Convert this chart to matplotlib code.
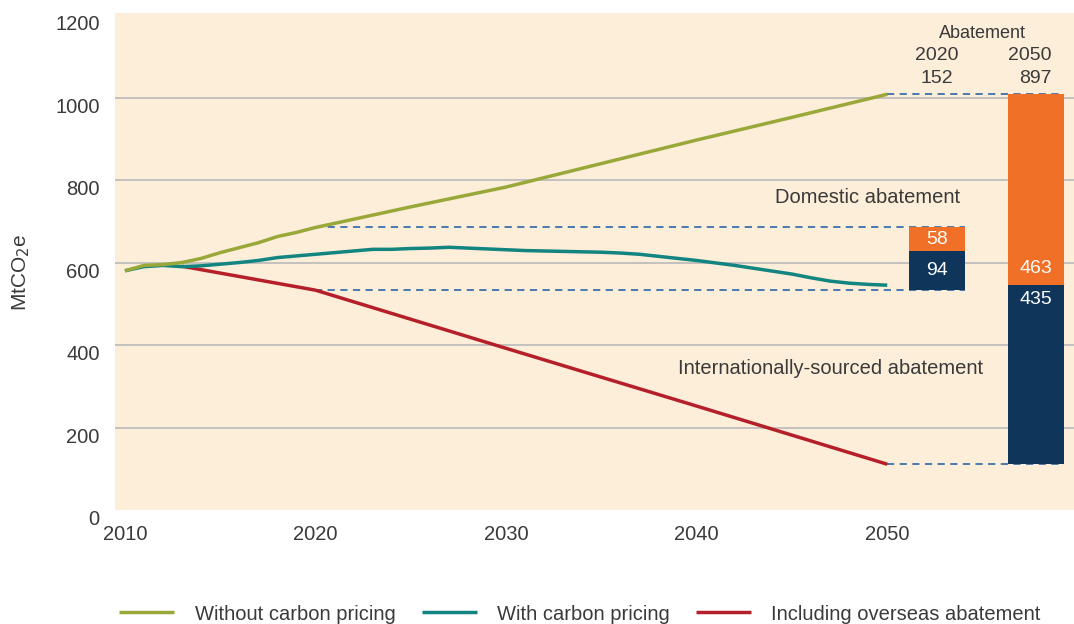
import matplotlib
matplotlib.use('Agg')
import matplotlib.pyplot as plt

plt.rcParams['font.family'] = ['Liberation Sans', 'DejaVu Sans']

# emissions, MtCO2e
years_a = list(range(2010, 2021)) + [2025, 2030, 2035, 2040, 2045, 2050]
without_pricing = [580, 593, 595, 600, 610, 624, 636, 648, 663, 673, 685,
                   735, 783, 840, 897, 952, 1008]

years_b = list(range(2010, 2051))
with_pricing = [580, 590, 593, 590, 592, 596, 600, 605, 612, 616, 620,
                624, 628, 632, 632, 634, 635, 637, 635, 633, 631,
                629, 628, 627, 626, 625, 623, 620, 615, 610, 605,
                599, 593, 586, 579, 572, 563, 555, 550, 547, 545]

years_c = [2013, 2020, 2030, 2040, 2050]
overseas = [591, 533, 392, 252, 111]

# abatement bars: (international part, domestic part)
bar_years = ['2020', '2050']
bar_bottom = [534, 111]
bar_navy = [94, 435]
bar_orange = [58, 463]
bar_totals = [152, 897]

c_green = '#9aa83a'
c_teal = '#138580'
c_red = '#b51f2a'
c_orange = '#f07027'
c_navy = '#0f365a'
c_dash = '#3d70aa'
c_text = '#3a3a3a'

fig = plt.figure(figsize=(10.74, 6.24), dpi=100)
ax = fig.add_axes([115 / 1074, 1 - 510 / 624, 1 - 115 / 1074, (510 - 13) / 624])
ax.set_facecolor('#fdeed9')
for s in ax.spines.values():
    s.set_visible(False)

ax.set_xlim(2009.48, 2059.8)
ax.set_ylim(0, 1205)

yt = [0, 200, 400, 600, 800, 1000, 1200]
for v in yt[1:-1]:
    ax.axhline(v, color='#b9b9b9', lw=1.2, zorder=1)
ax.set_yticks(yt)
ax.set_yticklabels([str(v) for v in yt], va='top')
ax.set_xticks([2010, 2020, 2030, 2040, 2050])
ax.tick_params(length=0, labelsize=14.5, colors=c_text)
ax.tick_params(axis='y', pad=11)
ax.tick_params(axis='x', pad=11)
for t in ax.get_yticklabels():
    t.set_y(t.get_position()[1])

# lines
l3, = ax.plot(years_c, overseas, color=c_red, lw=2.5, zorder=3,
              solid_capstyle='butt', label='Including overseas abatement')
l2, = ax.plot(years_b, with_pricing, color=c_teal, lw=2.5, zorder=4,
              solid_capstyle='butt', label='With carbon pricing')
l1, = ax.plot(years_a, without_pricing, color=c_green, lw=2.5, zorder=5,
              solid_capstyle='butt', label='Without carbon pricing')

# bars
bx = [2052.6, 2057.8]
bw = 2.94
for i in range(2):
    ax.bar(bx[i], bar_navy[i], bw, bottom=bar_bottom[i], color=c_navy, zorder=6)
    ax.bar(bx[i], bar_orange[i], bw, bottom=bar_bottom[i] + bar_navy[i],
           color=c_orange, zorder=6)

dash = dict(color=c_dash, lw=1.3, ls=(0, (4, 3)), zorder=2)
ax.plot([2020, bx[0] + bw / 2], [686, 686], **dash)
ax.plot([2020, bx[0] + bw / 2], [534, 534], **dash)
ax.plot([2050, bx[1] + bw / 2], [1008, 1008], **dash)
ax.plot([2050, bx[1] + bw / 2], [111, 111], **dash)

# bar labels
ax.text(bx[0], bar_bottom[0] + bar_navy[0] + bar_orange[0] / 2, str(bar_orange[0]),
        color='white', ha='center', va='center', fontsize=14, zorder=7)
ax.text(bx[0], bar_bottom[0] + bar_navy[0] / 2, str(bar_navy[0]),
        color='white', ha='center', va='center', fontsize=14, zorder=7)
top2 = bar_bottom[1] + bar_navy[1]
ax.text(bx[1], top2 + 39, str(bar_orange[1]), color='white', ha='center',
        va='center', fontsize=14, zorder=7)
ax.text(bx[1], top2 - 36, str(bar_navy[1]), color='white', ha='center',
        va='center', fontsize=14, zorder=7)

ax.text(2055.0, 1156, 'Abatement', color=c_text, ha='center', va='center', fontsize=13)
ax.text(bx[0], 1103, bar_years[0], color=c_text, ha='center', va='center', fontsize=14)
ax.text(bx[0], 1047, str(bar_totals[0]), color=c_text, ha='center', va='center', fontsize=14)
ax.text(2058.6, 1103, bar_years[1], color=c_text, ha='right', va='center', fontsize=14)
ax.text(2058.6, 1047, str(bar_totals[1]), color=c_text, ha='right', va='center', fontsize=14)

ax.text(2044.1, 758, 'Domestic abatement', color=c_text, ha='left', va='center', fontsize=14.5)
ax.text(2039.0, 342, 'Internationally-sourced abatement', color=c_text, ha='left',
        va='center', fontsize=14.5)

fig.text(21 / 1074, 1 - 272 / 624, 'MtCO$_2$e', rotation=90, ha='center', va='center',
         fontsize=15, color=c_text)

fig.legend(handles=[l1, l2, l3], loc='center', bbox_to_anchor=(0.54, 1 - 614 / 624),
           ncol=3, frameon=False, fontsize=14.5, handlelength=2.75,
           handletextpad=1.0, columnspacing=1.3, labelcolor=c_text)

fig.savefig('out.png', dpi=100)
